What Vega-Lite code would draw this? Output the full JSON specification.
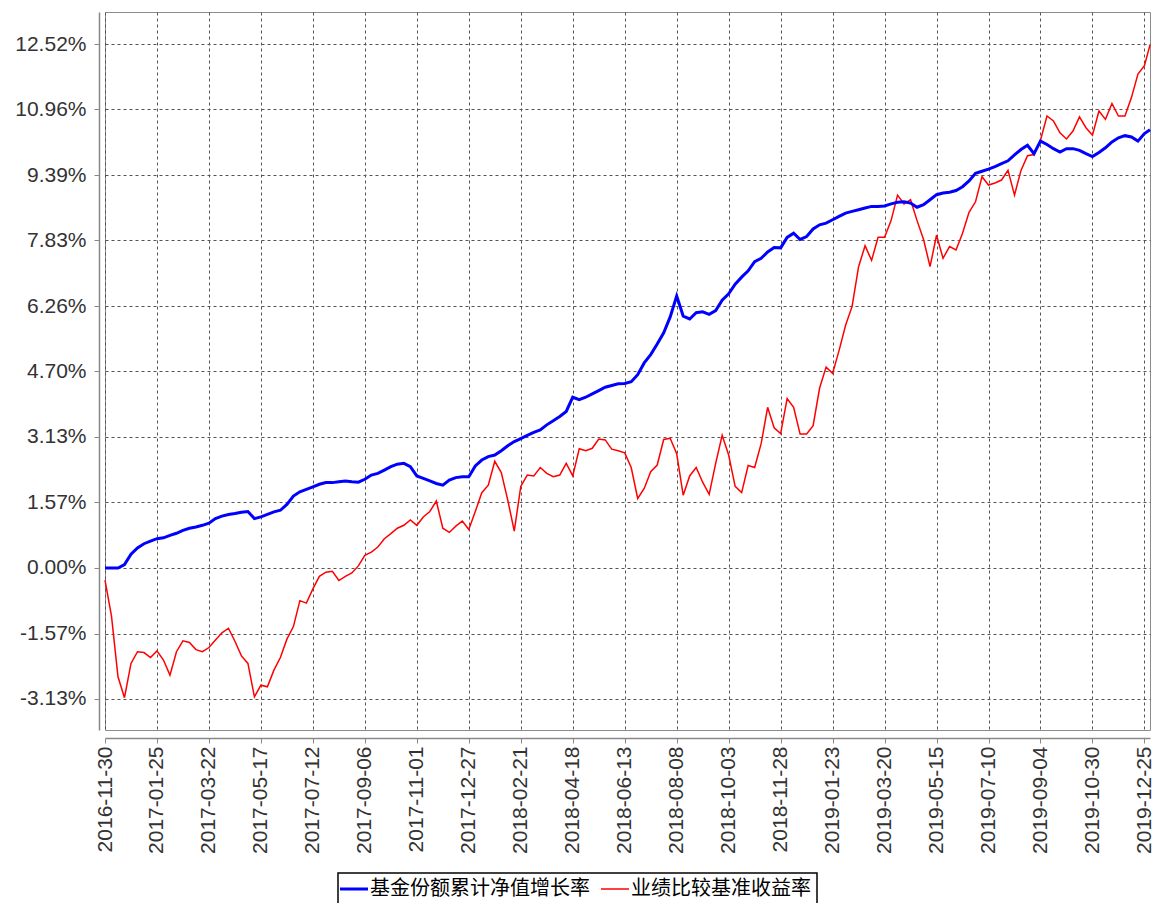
{
  "$schema": "https://vega.github.io/schema/vega-lite/v6.json",
  "width": 1045,
  "height": 718,
  "autosize": {"type": "none"},
  "padding": {"left": 105, "top": 12, "right": 5, "bottom": 173},
  "background": "white",
  "config": {
    "view": {"stroke": "#8c8c8c", "strokeWidth": 1},
    "axis": {
      "labelFont": "Liberation Sans",
      "labelFontSize": 21,
      "labelColor": "#333333",
      "domainColor": "#888888",
      "domainWidth": 1.5,
      "tickColor": "#888888",
      "tickWidth": 1,
      "gridColor": "#555555",
      "gridDash": [3, 3],
      "gridWidth": 1,
      "gridOpacity": 1,
      "title": null
    }
  },
  "data": {
    "values": [
      {"d": "2016-11-30", "f": 0.00, "b": -0.29},
      {"d": "2016-12-07", "f": 0.00, "b": -1.15},
      {"d": "2016-12-14", "f": 0.00, "b": -2.60},
      {"d": "2016-12-21", "f": 0.08, "b": -3.10},
      {"d": "2016-12-28", "f": 0.33, "b": -2.28},
      {"d": "2017-01-04", "f": 0.48, "b": -2.00},
      {"d": "2017-01-11", "f": 0.58, "b": -2.02},
      {"d": "2017-01-18", "f": 0.64, "b": -2.14},
      {"d": "2017-01-25", "f": 0.70, "b": -1.98},
      {"d": "2017-02-01", "f": 0.72, "b": -2.20},
      {"d": "2017-02-08", "f": 0.78, "b": -2.56},
      {"d": "2017-02-15", "f": 0.83, "b": -2.00},
      {"d": "2017-02-22", "f": 0.90, "b": -1.74},
      {"d": "2017-03-01", "f": 0.95, "b": -1.78},
      {"d": "2017-03-08", "f": 0.98, "b": -1.95},
      {"d": "2017-03-15", "f": 1.02, "b": -2.00},
      {"d": "2017-03-22", "f": 1.07, "b": -1.90},
      {"d": "2017-03-29", "f": 1.18, "b": -1.72},
      {"d": "2017-04-05", "f": 1.24, "b": -1.55},
      {"d": "2017-04-12", "f": 1.28, "b": -1.44},
      {"d": "2017-04-19", "f": 1.30, "b": -1.75},
      {"d": "2017-04-26", "f": 1.33, "b": -2.10},
      {"d": "2017-05-03", "f": 1.35, "b": -2.28},
      {"d": "2017-05-10", "f": 1.18, "b": -3.08},
      {"d": "2017-05-17", "f": 1.22, "b": -2.80},
      {"d": "2017-05-24", "f": 1.28, "b": -2.84},
      {"d": "2017-05-31", "f": 1.34, "b": -2.44},
      {"d": "2017-06-07", "f": 1.38, "b": -2.14},
      {"d": "2017-06-14", "f": 1.52, "b": -1.70},
      {"d": "2017-06-21", "f": 1.72, "b": -1.40},
      {"d": "2017-06-28", "f": 1.82, "b": -0.78},
      {"d": "2017-07-05", "f": 1.88, "b": -0.84},
      {"d": "2017-07-12", "f": 1.94, "b": -0.50},
      {"d": "2017-07-19", "f": 2.00, "b": -0.20},
      {"d": "2017-07-26", "f": 2.04, "b": -0.10},
      {"d": "2017-08-02", "f": 2.04, "b": -0.08},
      {"d": "2017-08-09", "f": 2.06, "b": -0.30},
      {"d": "2017-08-16", "f": 2.08, "b": -0.20},
      {"d": "2017-08-23", "f": 2.06, "b": -0.12},
      {"d": "2017-08-30", "f": 2.05, "b": 0.05},
      {"d": "2017-09-06", "f": 2.12, "b": 0.30},
      {"d": "2017-09-13", "f": 2.22, "b": 0.38},
      {"d": "2017-09-20", "f": 2.26, "b": 0.50},
      {"d": "2017-09-27", "f": 2.34, "b": 0.70},
      {"d": "2017-10-04", "f": 2.42, "b": 0.82},
      {"d": "2017-10-11", "f": 2.48, "b": 0.95},
      {"d": "2017-10-18", "f": 2.50, "b": 1.02},
      {"d": "2017-10-25", "f": 2.42, "b": 1.15},
      {"d": "2017-11-01", "f": 2.20, "b": 1.02},
      {"d": "2017-11-08", "f": 2.14, "b": 1.22},
      {"d": "2017-11-15", "f": 2.08, "b": 1.35},
      {"d": "2017-11-22", "f": 2.02, "b": 1.60},
      {"d": "2017-11-29", "f": 1.98, "b": 0.95},
      {"d": "2017-12-06", "f": 2.10, "b": 0.85},
      {"d": "2017-12-13", "f": 2.16, "b": 1.00},
      {"d": "2017-12-20", "f": 2.18, "b": 1.12},
      {"d": "2017-12-27", "f": 2.18, "b": 0.92},
      {"d": "2018-01-03", "f": 2.44, "b": 1.35},
      {"d": "2018-01-10", "f": 2.58, "b": 1.80},
      {"d": "2018-01-17", "f": 2.66, "b": 1.98},
      {"d": "2018-01-24", "f": 2.70, "b": 2.55},
      {"d": "2018-01-31", "f": 2.80, "b": 2.28},
      {"d": "2018-02-07", "f": 2.92, "b": 1.62},
      {"d": "2018-02-14", "f": 3.02, "b": 0.88},
      {"d": "2018-02-21", "f": 3.09, "b": 1.95},
      {"d": "2018-02-28", "f": 3.17, "b": 2.22},
      {"d": "2018-03-07", "f": 3.24, "b": 2.20},
      {"d": "2018-03-14", "f": 3.30, "b": 2.40},
      {"d": "2018-03-21", "f": 3.42, "b": 2.26},
      {"d": "2018-03-28", "f": 3.52, "b": 2.18},
      {"d": "2018-04-04", "f": 3.62, "b": 2.22},
      {"d": "2018-04-11", "f": 3.74, "b": 2.50},
      {"d": "2018-04-18", "f": 4.08, "b": 2.20},
      {"d": "2018-04-25", "f": 4.02, "b": 2.85},
      {"d": "2018-05-02", "f": 4.08, "b": 2.80},
      {"d": "2018-05-09", "f": 4.16, "b": 2.86},
      {"d": "2018-05-16", "f": 4.24, "b": 3.08},
      {"d": "2018-05-23", "f": 4.32, "b": 3.06},
      {"d": "2018-05-30", "f": 4.36, "b": 2.84},
      {"d": "2018-06-06", "f": 4.40, "b": 2.80},
      {"d": "2018-06-13", "f": 4.41, "b": 2.75},
      {"d": "2018-06-20", "f": 4.45, "b": 2.40},
      {"d": "2018-06-27", "f": 4.62, "b": 1.66},
      {"d": "2018-07-04", "f": 4.90, "b": 1.90},
      {"d": "2018-07-11", "f": 5.10, "b": 2.30},
      {"d": "2018-07-18", "f": 5.35, "b": 2.46},
      {"d": "2018-07-25", "f": 5.62, "b": 3.07},
      {"d": "2018-08-01", "f": 6.00, "b": 3.10},
      {"d": "2018-08-08", "f": 6.50, "b": 2.73},
      {"d": "2018-08-15", "f": 6.02, "b": 1.74},
      {"d": "2018-08-22", "f": 5.95, "b": 2.20},
      {"d": "2018-08-29", "f": 6.10, "b": 2.40},
      {"d": "2018-09-05", "f": 6.12, "b": 2.05},
      {"d": "2018-09-12", "f": 6.06, "b": 1.76},
      {"d": "2018-09-19", "f": 6.15, "b": 2.50},
      {"d": "2018-09-26", "f": 6.40, "b": 3.17},
      {"d": "2018-10-03", "f": 6.55, "b": 2.70},
      {"d": "2018-10-10", "f": 6.78, "b": 1.95},
      {"d": "2018-10-17", "f": 6.95, "b": 1.80},
      {"d": "2018-10-24", "f": 7.10, "b": 2.45},
      {"d": "2018-10-31", "f": 7.32, "b": 2.40},
      {"d": "2018-11-07", "f": 7.40, "b": 2.97},
      {"d": "2018-11-14", "f": 7.55, "b": 3.84},
      {"d": "2018-11-21", "f": 7.66, "b": 3.35},
      {"d": "2018-11-28", "f": 7.65, "b": 3.21},
      {"d": "2018-12-05", "f": 7.90, "b": 4.05},
      {"d": "2018-12-12", "f": 8.00, "b": 3.84},
      {"d": "2018-12-19", "f": 7.85, "b": 3.20},
      {"d": "2018-12-26", "f": 7.92, "b": 3.20},
      {"d": "2019-01-02", "f": 8.10, "b": 3.40},
      {"d": "2019-01-09", "f": 8.20, "b": 4.30},
      {"d": "2019-01-16", "f": 8.24, "b": 4.80},
      {"d": "2019-01-23", "f": 8.32, "b": 4.65},
      {"d": "2019-01-30", "f": 8.40, "b": 5.20},
      {"d": "2019-02-06", "f": 8.48, "b": 5.80},
      {"d": "2019-02-13", "f": 8.52, "b": 6.25},
      {"d": "2019-02-20", "f": 8.56, "b": 7.20},
      {"d": "2019-02-27", "f": 8.60, "b": 7.70},
      {"d": "2019-03-06", "f": 8.64, "b": 7.35},
      {"d": "2019-03-13", "f": 8.64, "b": 7.90},
      {"d": "2019-03-20", "f": 8.65, "b": 7.90},
      {"d": "2019-03-27", "f": 8.70, "b": 8.30},
      {"d": "2019-04-03", "f": 8.74, "b": 8.91},
      {"d": "2019-04-10", "f": 8.75, "b": 8.70},
      {"d": "2019-04-17", "f": 8.72, "b": 8.80},
      {"d": "2019-04-24", "f": 8.62, "b": 8.30},
      {"d": "2019-05-01", "f": 8.68, "b": 7.85},
      {"d": "2019-05-08", "f": 8.80, "b": 7.20},
      {"d": "2019-05-15", "f": 8.92, "b": 7.95},
      {"d": "2019-05-22", "f": 8.96, "b": 7.40},
      {"d": "2019-05-29", "f": 8.98, "b": 7.68},
      {"d": "2019-06-05", "f": 9.02, "b": 7.60},
      {"d": "2019-06-12", "f": 9.11, "b": 8.00},
      {"d": "2019-06-19", "f": 9.25, "b": 8.50},
      {"d": "2019-06-26", "f": 9.43, "b": 8.75},
      {"d": "2019-07-03", "f": 9.48, "b": 9.35},
      {"d": "2019-07-10", "f": 9.53, "b": 9.15},
      {"d": "2019-07-17", "f": 9.59, "b": 9.20},
      {"d": "2019-07-24", "f": 9.66, "b": 9.27},
      {"d": "2019-07-31", "f": 9.73, "b": 9.50},
      {"d": "2019-08-07", "f": 9.87, "b": 8.91},
      {"d": "2019-08-14", "f": 10.00, "b": 9.50},
      {"d": "2019-08-21", "f": 10.10, "b": 9.85},
      {"d": "2019-08-28", "f": 9.90, "b": 9.88},
      {"d": "2019-09-04", "f": 10.20, "b": 10.22},
      {"d": "2019-09-11", "f": 10.12, "b": 10.80},
      {"d": "2019-09-18", "f": 10.02, "b": 10.68},
      {"d": "2019-09-25", "f": 9.94, "b": 10.40},
      {"d": "2019-10-02", "f": 10.02, "b": 10.25},
      {"d": "2019-10-09", "f": 10.02, "b": 10.44},
      {"d": "2019-10-16", "f": 9.98, "b": 10.78},
      {"d": "2019-10-23", "f": 9.90, "b": 10.52},
      {"d": "2019-10-30", "f": 9.83, "b": 10.34},
      {"d": "2019-11-06", "f": 9.93, "b": 10.92},
      {"d": "2019-11-13", "f": 10.04, "b": 10.72},
      {"d": "2019-11-20", "f": 10.18, "b": 11.10},
      {"d": "2019-11-27", "f": 10.28, "b": 10.80},
      {"d": "2019-12-04", "f": 10.33, "b": 10.80},
      {"d": "2019-12-11", "f": 10.30, "b": 11.24},
      {"d": "2019-12-18", "f": 10.20, "b": 11.80},
      {"d": "2019-12-25", "f": 10.38, "b": 12.00},
      {"d": "2019-12-31", "f": 10.47, "b": 12.50}
    ]
  },
  "encoding": {
    "x": {
      "field": "d",
      "type": "temporal",
      "scale": {
        "type": "utc",
        "domain": [
          {"year": 2016, "month": 11, "date": 30, "utc": true},
          {"year": 2019, "month": 12, "date": 31, "utc": true}
        ]
      },
      "axis": {
        "title": null,
        "format": "%Y-%m-%d",
        "labelAngle": 270,
        "offset": 8,
        "tickSize": 5,
        "labelPadding": 3,
        "labelOverlap": false,
        "values": [
          {"year": 2016, "month": 11, "date": 30, "utc": true},
          {"year": 2017, "month": 1, "date": 25, "utc": true},
          {"year": 2017, "month": 3, "date": 22, "utc": true},
          {"year": 2017, "month": 5, "date": 17, "utc": true},
          {"year": 2017, "month": 7, "date": 12, "utc": true},
          {"year": 2017, "month": 9, "date": 6, "utc": true},
          {"year": 2017, "month": 11, "date": 1, "utc": true},
          {"year": 2017, "month": 12, "date": 27, "utc": true},
          {"year": 2018, "month": 2, "date": 21, "utc": true},
          {"year": 2018, "month": 4, "date": 18, "utc": true},
          {"year": 2018, "month": 6, "date": 13, "utc": true},
          {"year": 2018, "month": 8, "date": 8, "utc": true},
          {"year": 2018, "month": 10, "date": 3, "utc": true},
          {"year": 2018, "month": 11, "date": 28, "utc": true},
          {"year": 2019, "month": 1, "date": 23, "utc": true},
          {"year": 2019, "month": 3, "date": 20, "utc": true},
          {"year": 2019, "month": 5, "date": 15, "utc": true},
          {"year": 2019, "month": 7, "date": 10, "utc": true},
          {"year": 2019, "month": 9, "date": 4, "utc": true},
          {"year": 2019, "month": 10, "date": 30, "utc": true},
          {"year": 2019, "month": 12, "date": 25, "utc": true}
        ]
      }
    }
  },
  "layer": [
    {
      "mark": {"type": "line", "strokeWidth": 1.5, "interpolate": "linear"},
      "encoding": {
        "y": {
          "field": "b",
          "type": "quantitative",
          "scale": {"domain": [-3.871, 13.285], "nice": false, "zero": false},
          "axis": {
            "title": null,
            "offset": 6,
            "tickSize": 5,
            "labelPadding": 8,
            "values": [-3.13, -1.5655, 0, 1.5655, 3.13, 4.6955, 6.26, 7.8255, 9.39, 10.9555, 12.52],
            "labelExpr": "replace(format(datum.value, '.2f'), '\u2212', '-') + '%'"
          }
        },
        "color": {
          "datum": "业绩比较基准收益率",
          "type": "nominal",
          "scale": {
            "domain": ["基金份额累计净值增长率", "业绩比较基准收益率"],
            "range": ["#0000FF", "#FF0000"]
          },
          "legend": {
            "orient": "none",
            "legendX": 233,
            "legendY": 861,
            "direction": "horizontal",
            "title": null,
            "symbolType": "stroke",
            "symbolSize": 784,
            "symbolStrokeWidth": 2,
            "labelFont": "Noto Sans CJK SC",
            "labelFontSize": 20,
            "labelLimit": 600,
            "labelColor": "#000000",
            "labelOffset": 6,
            "columnPadding": 8,
            "padding": 6,
            "strokeColor": "#000000",
            "encode": {
              "symbols": {"update": {"strokeWidth": {"signal": "datum.value === '基金份额累计净值增长率' ? 3 : 1.5"}}},
              "legend": {"update": {"strokeWidth": {"value": 1.5}}}
            }
          }
        }
      }
    },
    {
      "mark": {"type": "line", "strokeWidth": 3, "interpolate": "linear"},
      "encoding": {
        "y": {"field": "f", "type": "quantitative", "axis": {"title": null}},
        "color": {"datum": "基金份额累计净值增长率", "type": "nominal"}
      }
    }
  ]
}
